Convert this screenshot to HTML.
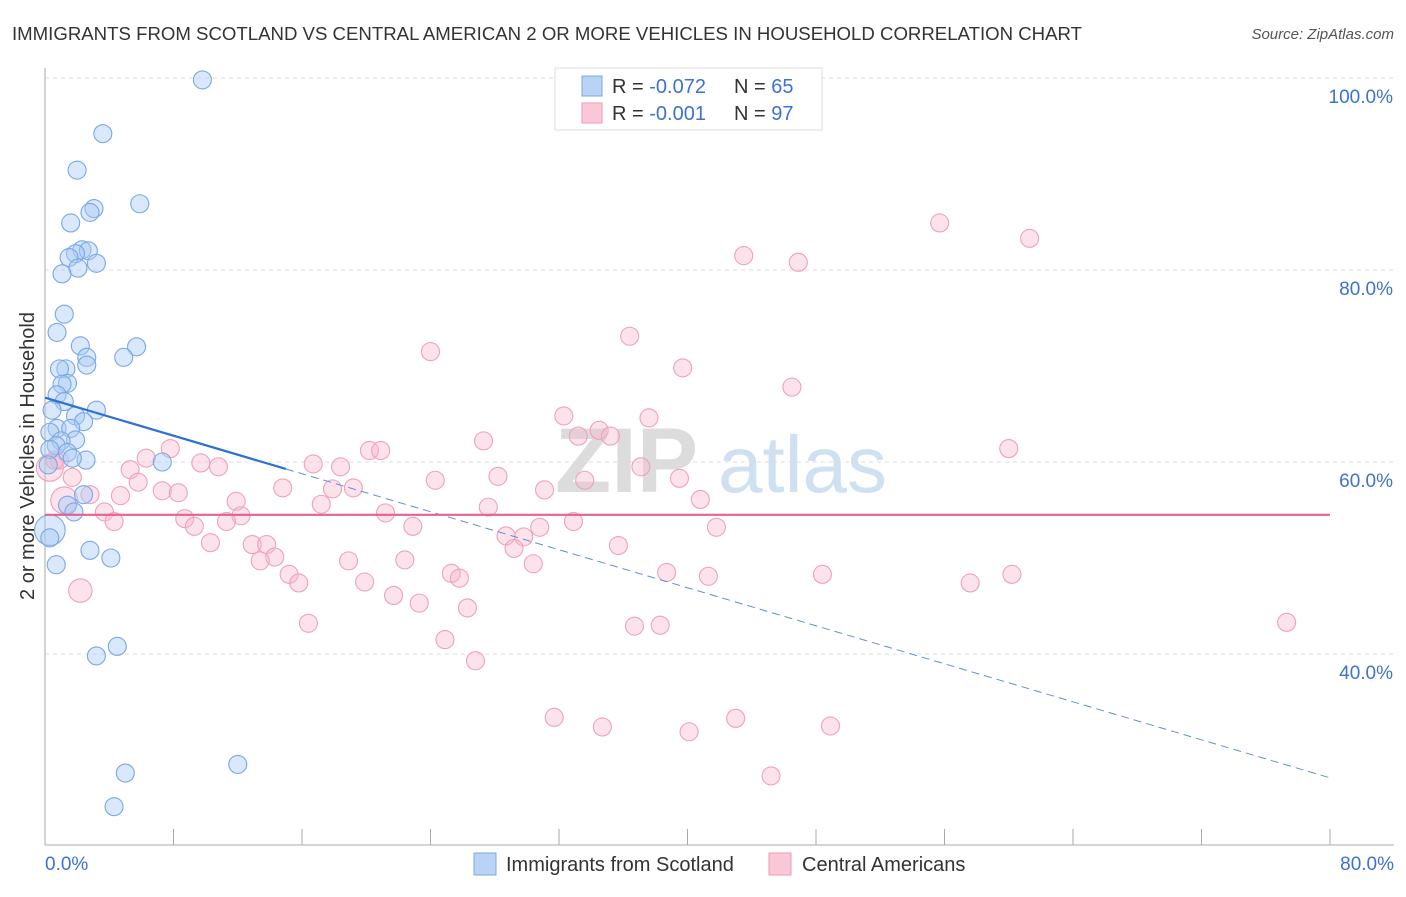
<!DOCTYPE html>
<html><head><meta charset="utf-8"><style>
body{margin:0;background:#fff;font-family:"Liberation Sans",sans-serif;}
svg text{font-family:"Liberation Sans",sans-serif;}
</style></head><body>
<svg id="chart" width="1406" height="892" viewBox="0 0 1406 892">
<text x="12" y="40" font-size="18" fill="#333" textLength="1070" lengthAdjust="spacingAndGlyphs">IMMIGRANTS FROM SCOTLAND VS CENTRAL AMERICAN 2 OR MORE VEHICLES IN HOUSEHOLD CORRELATION CHART</text>
<text x="1394" y="39" font-size="15" fill="#555" font-style="italic" text-anchor="end">Source: ZipAtlas.com</text>
<g><text x="555" y="492" font-size="92" fill="#dcdcdc" font-family="Liberation Serif" font-weight="bold">ZIP</text><text x="718" y="492" font-size="80" fill="#cfe0f3">atlas</text></g>
<g id="grid"></g>
<g id="axes"></g>
<g id="pink"></g>
<g id="blue"></g>
<g id="trends"></g>
<text transform="translate(34,456) rotate(-90)" font-size="20" fill="#333" text-anchor="middle">2 or more Vehicles in Household</text>
<g>
<rect x="555" y="68" width="267" height="62" fill="#fff" stroke="#ddd"/>
<rect x="582" y="76" width="20" height="20" fill="#b9d3f5" stroke="#7aa7e6"/>
<rect x="582" y="103" width="20" height="20" fill="#f9c7d6" stroke="#ee9ab5"/>
<text x="612" y="93" font-size="20" fill="#333">R = <tspan fill="#3d72d1">-0.072</tspan><tspan x="734">N = </tspan><tspan fill="#3d72d1">65</tspan></text>
<text x="612" y="120" font-size="20" fill="#333">R = <tspan fill="#3d72d1">-0.001</tspan><tspan x="734">N = </tspan><tspan fill="#3d72d1">97</tspan></text>
</g>
<g>
<rect x="474" y="853" width="22" height="22" fill="#b9d3f5" stroke="#7aa7e6"/>
<text x="506" y="871" font-size="20" fill="#333">Immigrants from Scotland</text>
<rect x="769" y="853" width="22" height="22" fill="#f9c7d6" stroke="#ee9ab5"/>
<text x="802" y="871" font-size="20" fill="#333">Central Americans</text>
</g>
</svg>
<script>
const xTicks=[0,8,16,24,32,40,48,56,64,72,80];
const yGrid=[100,80,60,40];
const yTickLabels=["100.0%","80.0%","60.0%","40.0%"];
const blueX=[9.8,3.6,2.0,5.9,3.05,2.8,1.6,2.3,2.7,1.9,1.5,3.2,2.05,1.06,1.2,0.75,2.2,5.7,4.9,2.6,2.6,1.3,0.9,1.4,1.06,0.75,1.2,3.2,0.44,1.9,2.4,0.75,1.6,0.3,1.9,1.0,0.7,0.3,1.4,2.55,1.7,7.3,0.2,2.4,1.4,1.8,0.3,0.3,2.8,4.1,0.7,4.5,3.2,5.0,12.0,4.3];
const blueY=[99.8,94.2,90.4,86.9,86.4,86.0,84.9,82.1,82.0,81.7,81.3,80.7,80.2,79.6,75.4,73.5,72.1,72.0,70.9,70.9,70.1,69.7,69.7,68.2,68.1,67.0,66.3,65.4,65.4,64.8,64.2,63.5,63.5,63.1,62.3,62.2,61.7,61.3,61.0,60.2,60.4,60.0,59.7,56.6,55.5,54.8,52.9,52.1,50.8,50.0,49.3,40.8,39.8,27.6,28.5,24.1];
const blueSize=[1,1,1,1,1,1,1,1,1,1,1,1,1,1,1,1,1,1,1,1,1,1,1,1,1,1,1,1,1,1,1,1,1,1,1,1,1,1,1,1,1,1,1,1,1,1,1.7,1,1,1,1,1,1,1,1,1];
const pinkX=[55.7,61.3,43.5,46.9,36.4,24.0,39.7,46.5,32.3,37.6,34.5,33.2,35.2,27.3,7.8,20.2,20.9,60.0,6.3,9.7,10.8,16.7,18.4,37.1,5.3,28.2,24.3,33.6,39.5,5.8,14.8,17.9,19.2,31.1,7.3,8.3,4.7,2.8,40.8,11.9,17.2,27.6,3.7,21.2,12.2,8.7,32.9,4.3,11.3,9.3,22.9,30.8,41.8,28.7,29.8,10.3,12.9,13.8,35.7,29.2,14.3,13.4,22.4,18.9,30.4,15.2,25.3,25.8,38.7,41.3,48.4,60.2,15.8,19.9,57.6,21.7,2.2,23.3,26.3,16.4,36.7,38.3,77.3,24.9,26.8,31.7,43.0,34.7,48.9,40.1,45.2,0.3,0.9,1.2,1.7,0.6];
const pinkY=[84.9,83.3,81.5,80.8,73.1,71.5,69.8,67.8,64.8,64.6,63.3,62.7,62.7,62.2,61.4,61.2,61.2,61.4,60.4,59.9,59.5,59.8,59.5,59.5,59.2,58.5,58.1,58.1,58.3,57.9,57.3,57.2,57.3,57.1,57.0,56.8,56.5,56.6,56.1,55.9,55.6,55.3,54.8,54.7,54.4,54.1,53.8,53.8,53.8,53.3,53.3,53.2,53.2,52.3,52.2,51.6,51.4,51.4,51.3,51.0,50.1,49.7,49.8,49.7,49.4,48.3,48.4,47.9,48.5,48.1,48.3,48.3,47.4,47.5,47.4,46.1,46.6,45.3,44.8,43.2,42.9,43.0,43.3,41.5,39.3,33.4,33.3,32.4,32.5,31.9,27.3,59.4,60.2,56.0,58.4,60.2];
const pinkSize=[1,1,1,1,1,1,1,1,1,1,1,1,1,1,1,1,1,1,1,1,1,1,1,1,1,1,1,1,1,1,1,1,1,1,1,1,1,1,1,1,1,1,1,1,1,1,1,1,1,1,1,1,1,1,1,1,1,1,1,1,1,1,1,1,1,1,1,1,1,1,1,1,1,1,1,1,1.3,1,1,1,1,1,1,1,1,1,1,1,1,1,1,1.5,1,1.5,1,1];
const blueTrend=[66.7,27.1];
const blueSolidEnd=15;
const pinkTrend=[54.5,54.5];
const NS="http://www.w3.org/2000/svg";
const X=v=>45+v*(1285/80);
const Y=v=>78+(100-v)*9.6;
function mk(tag,attrs,parent){const e=document.createElementNS(NS,tag);for(const k in attrs)e.setAttribute(k,attrs[k]);parent.appendChild(e);return e;}
const grid=document.getElementById('grid'),axes=document.getElementById('axes');
yGrid.forEach((v,i)=>{
 const l=mk('line',{x1:45,x2:1394,y1:Y(v),y2:Y(v),stroke:'#dcdcdc','stroke-dasharray':'4,4'},grid);
 
 
 const t=mk('text',{x:1393,y:Y(v)+25,'font-size':19,fill:'#3d72d1','text-anchor':'end'},axes);
 t.textContent=yTickLabels[i];
 
 
});
const ya=mk('line',{x1:45,x2:45,y1:68,y2:845,stroke:'#aaa'},axes);


const xa=mk('line',{x1:45,x2:1394,y1:845,y2:845,stroke:'#aaa'},axes);


xTicks.forEach(v=>{
 const t=mk('line',{x1:X(v),x2:X(v),y1:829,y2:845,stroke:'#aaa'},axes);
 
 
});
[[0,'0.0%',45,'start'],[80,'80.0%',1394,'end']].forEach(a=>{
 const t=mk('text',{x:a[2],y:870,'font-size':19,fill:'#3d72d1','text-anchor':a[3]},axes);
 t.textContent=a[1];
 
 
});
function dots(xs,ys,ss,g,fill,stroke,name){
 xs.forEach((v,i)=>{
  const c=mk('circle',{cx:X(v),cy:Y(ys[i]),r:9*ss[i],fill:fill,stroke:stroke,'stroke-width':1.1},g);
  
  
 });
}
dots(pinkX,pinkY,pinkSize,document.getElementById('pink'),'rgba(248,183,204,0.4)','#eea2ba','central-american-point');
dots(blueX,blueY,blueSize,document.getElementById('blue'),'rgba(170,203,243,0.45)','#7aa7e6','scotland-point');
const tr=document.getElementById('trends');
const bAt=x=>blueTrend[0]+(blueTrend[1]-blueTrend[0])*x/80;
const b1=mk('line',{x1:X(0),y1:Y(bAt(0)),x2:X(blueSolidEnd),y2:Y(bAt(blueSolidEnd)),stroke:'#2f6fd6','stroke-width':2.2},tr);


const b2=mk('line',{x1:X(blueSolidEnd),y1:Y(bAt(blueSolidEnd)),x2:X(80),y2:Y(bAt(80)),stroke:'#5b8fe0','stroke-width':1,'stroke-dasharray':'8,5'},tr);


const p1=mk('line',{x1:X(0),y1:Y(pinkTrend[0]),x2:X(80),y2:Y(pinkTrend[1]),stroke:'#e5628b','stroke-width':2.2},tr);


</script>
</body></html>
